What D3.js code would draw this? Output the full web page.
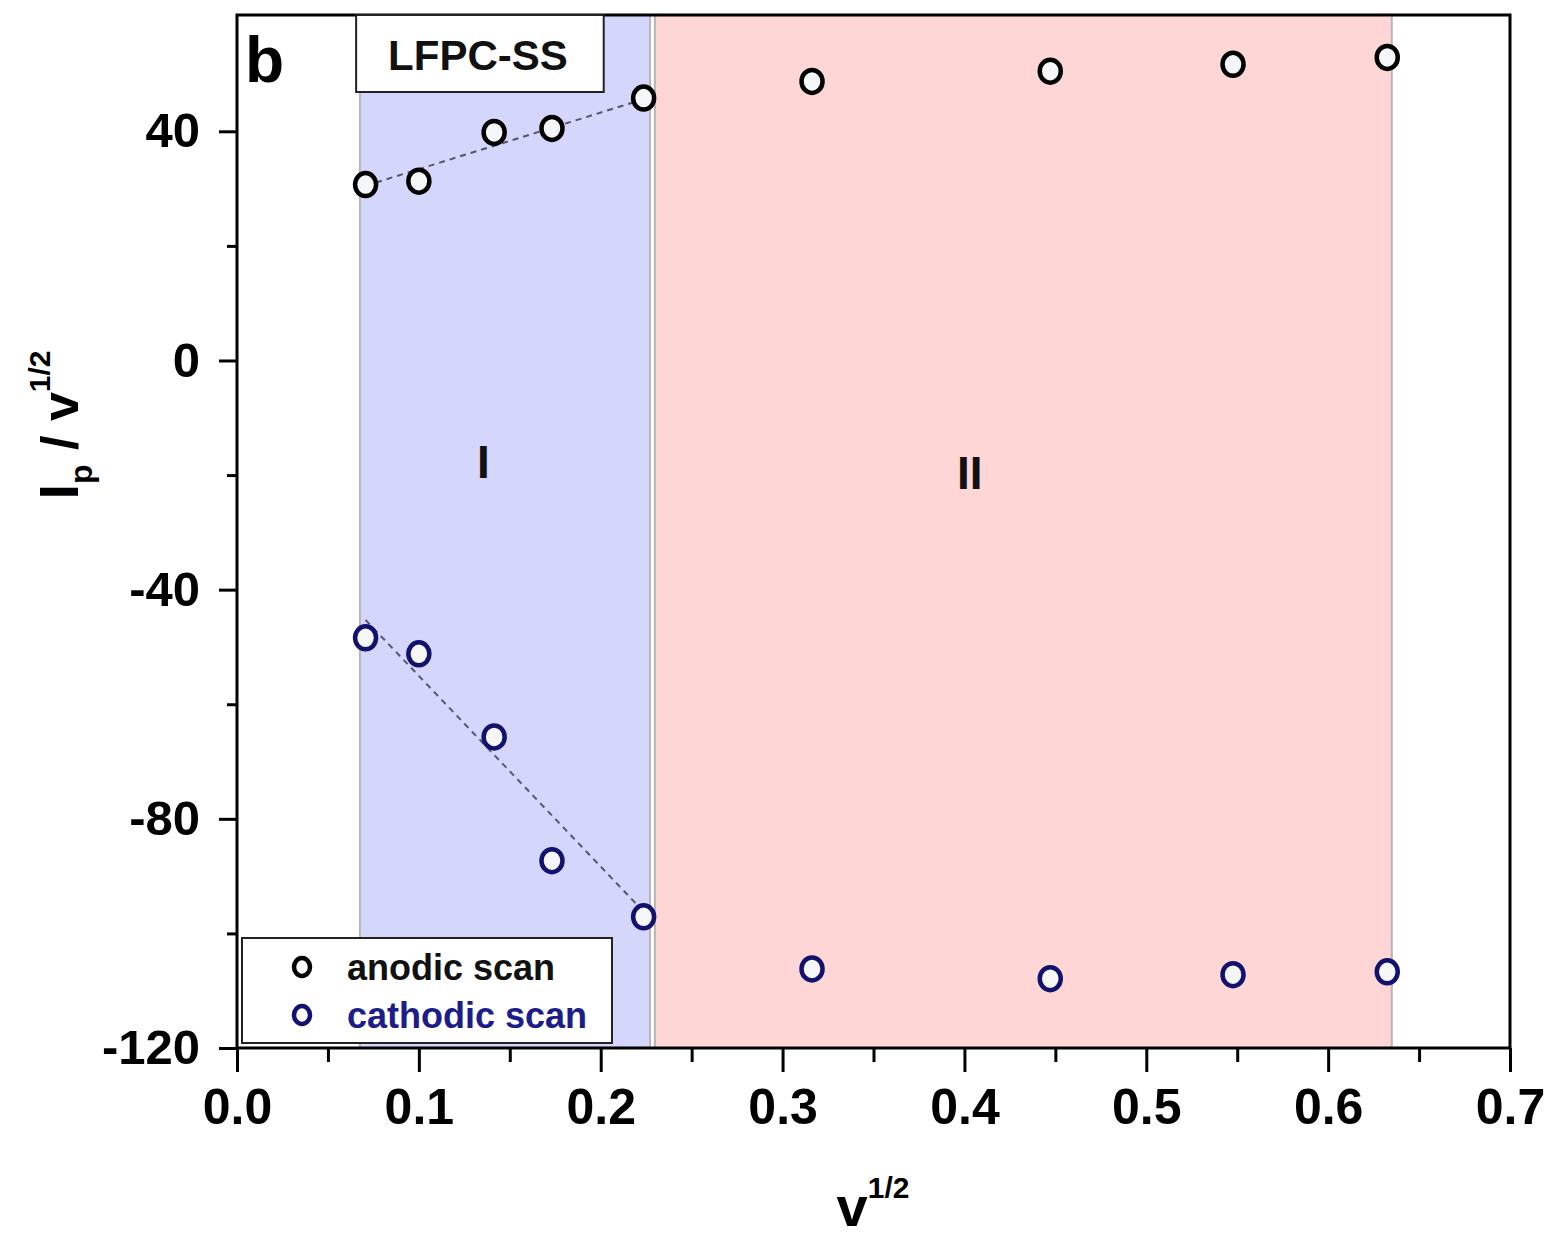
<!DOCTYPE html>
<html>
<head>
<meta charset="utf-8">
<script src="https://cdn.jsdelivr.net/npm/d3@7"></script>
<style>
  body { margin: 0; background: #fff; }
  text { font-family: "Liberation Sans", Arial, sans-serif; font-weight: bold; }
</style>
</head>
<body>
<script>
// data
const sqrtRate = [0.0707, 0.1, 0.1414, 0.1732, 0.2236, 0.3162, 0.4472, 0.5477, 0.6325];
const anodic = [30.7, 31.3, 39.8, 40.5, 45.8, 48.7, 50.5, 51.7, 52.9];
const cathodic = [-48.4, -51.2, -65.7, -87.3, -97.1, -106.2, -107.9, -107.2, -106.7];

// dashed linear fits over region I (end points)
const fitX = [0.0707, 0.2236];
const anodicFit = [30.5, 45.6];
const cathodicFit = [-45.3, -96.2];

// shaded regions
const regions = [
  { name: "I", x0: 0.0676, x1: 0.2271, fill: "#d5d6fb", labelX: 0.1355, labelY: -20.5 },
  { name: "II", x0: 0.2298, x1: 0.635, fill: "#fed6d6", labelX: 0.4030, labelY: -22.5 }
];

const xTicks = [0, 0.1, 0.2, 0.3, 0.4, 0.5, 0.6, 0.7];
const xMinor = [0.05, 0.15, 0.25, 0.35, 0.45, 0.55, 0.65];
const yTicks = [-120, -80, -40, 0, 40];
const yMinor = [-100, -60, -20, 20];

const width = 1556, height = 1238;
const margin = { left: 237, top: 15, right: 46, bottom: 190 };
const iw = width - margin.left - margin.right;
const ih = height - margin.top - margin.bottom;

const svg = d3.select("body").append("svg")
  .attr("width", width)
  .attr("height", height);

const g = svg.append("g").attr("transform", `translate(${margin.left},${margin.top})`);

const x = d3.scaleLinear().domain([0, 0.7]).range([0, iw]);
const y = d3.scaleLinear().domain([-120, 60.3]).range([ih, 0]);

// shaded regions
g.selectAll(".region")
  .data(regions)
  .enter().append("rect")
  .attr("class", "region")
  .attr("x", d => x(d.x0))
  .attr("y", 0)
  .attr("width", d => x(d.x1) - x(d.x0))
  .attr("height", ih)
  .attr("fill", d => d.fill)
  .attr("stroke", "#b8b4b8")
  .attr("stroke-width", 2);

g.selectAll(".regionLabel")
  .data(regions)
  .enter().append("text")
  .attr("x", d => x(d.labelX))
  .attr("y", d => y(d.labelY))
  .attr("text-anchor", "middle")
  .attr("font-size", 46)
  .attr("fill", "#111")
  .text(d => d.name);

// fit lines
const fitLine = d3.line().x(d => x(d[0])).y(d => y(d[1]));
g.append("path")
  .datum(d3.zip(fitX, anodicFit))
  .attr("d", fitLine)
  .attr("fill", "none")
  .attr("stroke", "#555566")
  .attr("stroke-width", 2)
  .attr("stroke-dasharray", "6,5");
g.append("path")
  .datum(d3.zip(fitX, cathodicFit))
  .attr("d", fitLine)
  .attr("fill", "none")
  .attr("stroke", "#555577")
  .attr("stroke-width", 2)
  .attr("stroke-dasharray", "6,5");

// markers
function drawSeries(vals, color) {
  g.selectAll(null)
    .data(d3.zip(sqrtRate, vals))
    .enter().append("ellipse")
    .attr("cx", d => x(d[0]))
    .attr("cy", d => y(d[1]))
    .attr("rx", 10.5)
    .attr("ry", 11.5)
    .attr("fill", "#f4f6f8")
    .attr("stroke", color)
    .attr("stroke-width", 4.5);
}
drawSeries(anodic, "#000");
drawSeries(cathodic, "#12126e");

// frame
g.append("rect")
  .attr("width", iw)
  .attr("height", ih)
  .attr("fill", "none")
  .attr("stroke", "#000")
  .attr("stroke-width", 3);

// axes
const xAxis = g.append("g")
  .attr("transform", `translate(0,${ih})`)
  .call(d3.axisBottom(x).tickValues(xTicks).tickSize(24).tickPadding(16).tickFormat(d3.format(".1f")));
g.append("g")
  .attr("transform", `translate(0,${ih})`)
  .call(d3.axisBottom(x).tickValues(xMinor).tickSize(14).tickFormat(""));
const yAxis = g.append("g")
  .call(d3.axisLeft(y).tickValues(yTicks).tickSize(18).tickPadding(19).tickFormat(d => String(d)));
g.append("g")
  .call(d3.axisLeft(y).tickValues(yMinor).tickSize(10).tickFormat(""));

g.selectAll(".domain").remove();
g.selectAll(".tick line").attr("stroke", "#000").attr("stroke-width", 3);
xAxis.selectAll("text").attr("font-size", 50).attr("fill", "#000");
yAxis.selectAll("text").attr("font-size", 49).attr("fill", "#000");

// panel letter
g.append("text")
  .attr("x", 8)
  .attr("y", 67)
  .attr("font-size", 64)
  .attr("fill", "#000")
  .text("b");

// sample box
g.append("rect")
  .attr("x", x(0.0655))
  .attr("y", 0)
  .attr("width", x(0.2) - x(0.0655) + 3)
  .attr("height", 77)
  .attr("fill", "#fff")
  .attr("stroke", "#222")
  .attr("stroke-width", 2);
g.append("text")
  .attr("x", x(0.1325))
  .attr("y", 55)
  .attr("text-anchor", "middle")
  .attr("font-size", 42)
  .attr("fill", "#111")
  .text("LFPC-SS");

// legend
const legend = g.append("g").attr("transform", `translate(5,${ih - 110})`);
legend.append("rect")
  .attr("width", 370)
  .attr("height", 105)
  .attr("fill", "#fff")
  .attr("stroke", "#222")
  .attr("stroke-width", 2);
const legendItems = [
  { label: "anodic scan", color: "#000", text: "#111" },
  { label: "cathodic scan", color: "#12126e", text: "#1c1c8a" }
];
legendItems.forEach((d, i) => {
  const ly = 29 + i * 48;
  legend.append("ellipse")
    .attr("cx", 60).attr("cy", ly)
    .attr("rx", 8).attr("ry", 9)
    .attr("fill", "#fff")
    .attr("stroke", d.color)
    .attr("stroke-width", 4.5);
  legend.append("text")
    .attr("x", 105).attr("y", ly + 13)
    .attr("font-size", 36)
    .attr("fill", d.text)
    .text(d.label);
});

// axis titles
const xTitle = svg.append("text")
  .attr("x", 873)
  .attr("y", 1226)
  .attr("text-anchor", "middle")
  .attr("fill", "#000");
xTitle.append("tspan").attr("font-size", 56).text("v");
xTitle.append("tspan").attr("font-size", 30).attr("dy", -28).text("1/2");

const yTitle = svg.append("text")
  .attr("transform", "translate(78,425) rotate(-90)")
  .attr("text-anchor", "middle")
  .attr("fill", "#000");
yTitle.append("tspan").attr("font-size", 56).text("I");
yTitle.append("tspan").attr("font-size", 32).attr("dy", 14).text("p");
yTitle.append("tspan").attr("font-size", 52).attr("dy", -14).text(" / v");
yTitle.append("tspan").attr("font-size", 30).attr("dy", -28).text("1/2");
</script>
</body>
</html>
